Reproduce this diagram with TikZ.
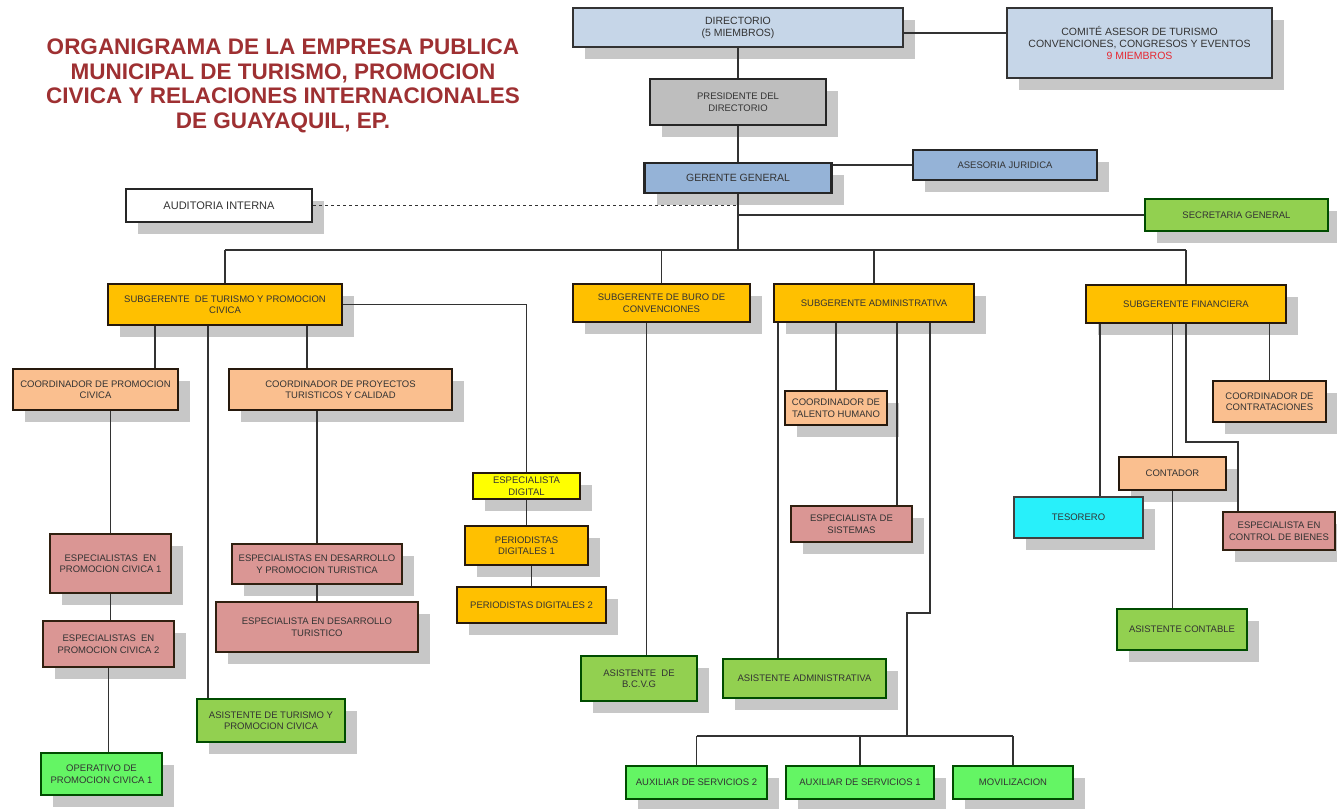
\documentclass[tikz,border=0pt]{standalone}
\usepackage{fontspec}
\setmainfont{Liberation Sans}
\usepackage{xcolor}
\usepackage{tikz}
\usetikzlibrary{shadows}

\definecolor{dirblue}{RGB}{198,214,232}
\definecolor{gerblue}{RGB}{149,179,215}
\definecolor{presgray}{RGB}{190,190,190}
\definecolor{subgold}{RGB}{255,192,0}
\definecolor{coordpeach}{RGB}{250,191,143}
\definecolor{esprose}{RGB}{218,150,148}
\definecolor{asisgreen}{RGB}{146,208,80}
\definecolor{auxlime}{RGB}{100,245,100}
\definecolor{digyellow}{RGB}{255,255,0}
\definecolor{tesocyan}{RGB}{40,240,250}
\definecolor{titlered}{RGB}{158,48,50}
\definecolor{memred}{RGB}{230,40,50}
\definecolor{linegray}{RGB}{50,50,50}

\begin{document}
\begin{tikzpicture}[x=1pt, y=-1pt,
    every node/.style={align=center, inner sep=1pt, text=black!80,
      font=\fontsize{9.5}{11.5}\selectfont},
    box/.style={draw=black!85, line width=2.2pt,
      drop shadow={shadow xshift=12pt, shadow yshift=-12pt, fill=black!22, opacity=1}},
    sz/.style 2 args={minimum width=#1pt, minimum height=#2pt},
    bluebox/.style={box, fill=dirblue, draw=black!80},
    gerbox/.style={box, fill=gerblue, draw=black!85},
    goldbox/.style={box, fill=subgold, draw=black!80!brown},
    peachbox/.style={box, fill=coordpeach, draw=black!80!brown},
    rosebox/.style={box, fill=esprose, draw=black!75!brown},
    greenbox/.style={box, fill=asisgreen, draw=black!70!green},
    limebox/.style={box, fill=auxlime, draw=black!70!green},
    link/.style={draw=linegray, line width=1.3pt}]

  \useasboundingbox (0,0) rectangle (1337,808);

  \node[text=titlered, font=\bfseries\fontsize{22.5}{24.7}\selectfont] (title) at (283,86) {
    ORGANIGRAMA DE LA EMPRESA PUBLICA\\
    MUNICIPAL DE TURISMO, PROMOCION\\
    CIVICA Y RELACIONES INTERNACIONALES\\
    DE GUAYAQUIL, EP.};

  % direccion
  \node[bluebox, sz={330}{39}, font=\fontsize{10.5}{12}\selectfont] (dir) at (738,27.5) {DIRECTORIO\\(5 MIEMBROS)};
  \node[bluebox, sz={265}{70}, font=\fontsize{10.5}{12}\selectfont] (comite) at (1139.5,43) {
    COMITÉ ASESOR DE TURISMO\\
    CONVENCIONES, CONGRESOS Y EVENTOS\\
    \textcolor{memred}{9 MIEMBROS}};
  \node[box, fill=presgray, sz={176}{46}] (pres) at (738,102) {PRESIDENTE DEL\\DIRECTORIO};
  \node[gerbox, sz={184}{30}] (ases) at (1005,165) {ASESORIA JURIDICA};
  \node[gerbox, sz={187}{30}, font=\fontsize{10.5}{12}\selectfont] (ger) at (738,178) {GERENTE GENERAL};
  \node[box, fill=white, sz={186}{33}, font=\fontsize{11}{13}\selectfont] (aud) at (219,205.5) {AUDITORIA INTERNA};
  \node[greenbox, sz={183}{32}] (sec) at (1236.5,215) {SECRETARIA GENERAL};

  % subgerencias
  \node[goldbox, sz={234}{41}] (sgtur) at (225,304.5) {SUBGERENTE \ DE TURISMO Y PROMOCION\\CIVICA};
  \node[goldbox, sz={177}{38}] (sgburo) at (661.5,303) {SUBGERENTE DE BURO DE\\CONVENCIONES};
  \node[goldbox, sz={200}{38}] (sgadm) at (874,303) {SUBGERENTE ADMINISTRATIVA};
  \node[goldbox, sz={200}{38}] (sgfin) at (1186,304) {SUBGERENTE FINANCIERA};

  % coordinaciones
  \node[peachbox, sz={165}{41}] (cprom) at (95.5,389.5) {COORDINADOR DE PROMOCION\\CIVICA};
  \node[peachbox, sz={223}{41}] (cproy) at (340.5,389.5) {COORDINADOR DE PROYECTOS\\TURISTICOS Y CALIDAD};
  \node[peachbox, sz={113}{41}] (ccont) at (1269.5,401.5) {COORDINADOR DE\\CONTRATACIONES};
  \node[peachbox, sz={102}{34}] (ctal) at (836,408) {COORDINADOR DE\\TALENTO HUMANO};
  \node[peachbox, sz={107}{33}] (cont) at (1172.5,473.5) {CONTADOR};
  \node[box, fill=digyellow, draw=black!80!brown, sz={107}{26}] (espdig) at (526.5,486) {ESPECIALISTA\\DIGITAL};
  \node[box, fill=tesocyan, draw=black!75, sz={129}{41}] (teso) at (1078.5,517.5) {TESORERO};
  \node[rosebox, sz={121}{36}] (esis) at (851.5,524) {ESPECIALISTA DE\\SISTEMAS};
  \node[rosebox, sz={112}{38}] (ecb) at (1279,531) {ESPECIALISTA EN\\CONTROL DE BIENES};

  % especialistas y asistentes
  \node[goldbox, sz={123}{39}] (per1) at (526.5,545.5) {PERIODISTAS\\DIGITALES 1};
  \node[rosebox, sz={121}{59}] (esp1) at (110.5,563.5) {ESPECIALISTAS \ EN\\PROMOCION CIVICA 1};
  \node[rosebox, sz={170}{40}] (edp) at (317,564) {ESPECIALISTAS EN DESARROLLO\\Y PROMOCION TURISTICA};
  \node[goldbox, sz={149}{36}] (per2) at (531.5,605) {PERIODISTAS DIGITALES 2};
  \node[rosebox, sz={202}{50}] (edt) at (317,627) {ESPECIALISTA EN DESARROLLO\\TURISTICO};
  \node[greenbox, sz={130}{41}] (ascont) at (1182,629.5) {ASISTENTE CONTABLE};
  \node[rosebox, sz={131}{46}] (esp2) at (108.5,644) {ESPECIALISTAS \ EN\\PROMOCION CIVICA 2};
  \node[greenbox, sz={116}{45}] (asbcvg) at (639,678.5) {ASISTENTE \ DE\\B.C.V.G};
  \node[greenbox, sz={163}{39}] (asadm) at (804.5,678.5) {ASISTENTE ADMINISTRATIVA};
  \node[greenbox, sz={148}{43}] (asistur) at (271,720.5) {ASISTENTE DE TURISMO Y\\PROMOCION CIVICA};
  \node[limebox, sz={121}{42}] (oper) at (101.5,774) {OPERATIVO DE\\PROMOCION CIVICA 1};
  \node[limebox, sz={141}{33}] (aux2) at (696.5,782.5) {AUXILIAR DE SERVICIOS 2};
  \node[limebox, sz={148}{33}] (aux1) at (860,782.5) {AUXILIAR DE SERVICIOS 1};
  \node[limebox, sz={120}{33}] (movil) at (1013,782.5) {MOVILIZACION};

  \coordinate (bus) at (738,250);
  \coordinate (auxbus) at (907,736);
  \coordinate (jog) at (907,613);
  \coordinate (jogf) at (1238,442);

  % lineas
  \draw[link] (dir.south) -- (pres.north);
  \draw[link] (pres.south) -- (ger.north);
  \draw[link] (ger.south) -- (bus);
  \draw[link] (dir.east |- 0,33) -- (comite.west |- 0,33);
  \draw[link] (ger.east |- ases.west) -- (ases.west);
  \draw[link, dashed, line width=1pt] (aud.east) -- (aud.east -| ger.south);
  \draw[link] (sec.west) -- (sec.west -| ger.south);
  \draw[link] (bus -| sgtur.north) -- (bus -| sgfin.north);
  \foreach \n in {sgtur,sgburo,sgadm,sgfin}
    \draw[link] (bus -| \n.north) -- (\n.north);

  \draw[link] ([xshift=-70pt]sgtur.south) -- ([xshift=-70pt]sgtur.south |- cprom.north);
  \draw[link] ([xshift=-17pt]sgtur.south) -- ([xshift=-17pt]sgtur.south |- asistur.north);
  \draw[link] ([xshift=82pt]sgtur.south) -- ([xshift=82pt]sgtur.south |- cproy.north);
  \draw[link] (sgtur.east) -| (espdig.north);
  \draw[link] (cprom.south -| esp1.north) -- (esp1.north);
  \draw[link] (esp1.south) -- (esp1.south |- esp2.north);
  \draw[link] (esp2.south) -- (esp2.south |- oper.north);
  \draw[link] (edp.north |- cproy.south) -- (edp.north);
  \draw[link] (edp.south) -- (edt.north);
  \draw[link] (espdig.south) -- (per1.north);
  \draw[link] (per2.north |- per1.south) -- (per2.north);

  \draw[link] ([xshift=-15pt]sgburo.south) -- ([xshift=-15pt]sgburo.south |- asbcvg.north);

  \draw[link] ([xshift=-96pt]sgadm.south) -- ([xshift=-96pt]sgadm.south |- asadm.north);
  \draw[link] (ctal.north |- sgadm.south) -- (ctal.north);
  \draw[link] ([xshift=23pt]sgadm.south) -- ([xshift=23pt]sgadm.south |- esis.north);
  \draw[link] ([xshift=56pt]sgadm.south) |- (jog) -- (auxbus);
  \draw[link] (aux2.north |- auxbus) -- (movil.north |- auxbus);
  \foreach \n in {aux2,aux1,movil}
    \draw[link] (auxbus -| \n.north) -- (\n.north);

  \draw[link] ([xshift=-86pt]sgfin.south) -- ([xshift=-86pt]sgfin.south |- teso.north);
  \draw[link] (cont.north |- sgfin.south) -- (cont.north);
  \draw[link] (sgfin.south) |- (jogf) -- (jogf |- ecb.north);
  \draw[link] (ccont.north |- sgfin.south) -- (ccont.north);
  \draw[link] (cont.south) -- (cont.south |- ascont.north);
\end{tikzpicture}
\end{document}
